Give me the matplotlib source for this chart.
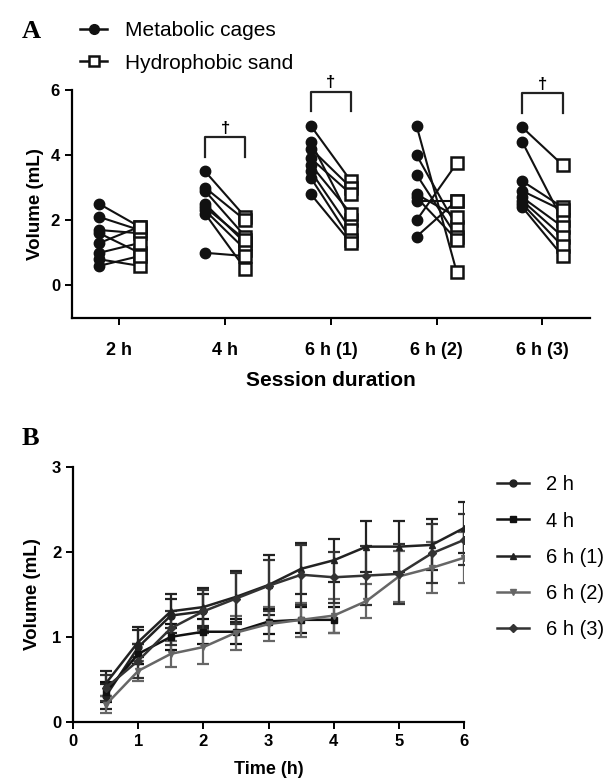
import numpy as np
import matplotlib
matplotlib.use('Agg')
import matplotlib.pyplot as plt

plt.rcParams['font.family'] = ['Liberation Sans', 'DejaVu Sans']

# ---------------- Panel A data ----------------
sessions = ['2 h', '4 h', '6 h (1)', '6 h (2)', '6 h (3)']
cages = [
    [2.5, 2.1, 1.7, 1.6, 1.3, 1.0, 0.8, 0.6],
    [3.5, 3.0, 2.9, 2.5, 2.3, 2.2, 2.4, 1.0],
    [4.9, 4.4, 4.2, 3.9, 3.7, 3.5, 3.3, 2.8],
    [4.9, 4.0, 3.4, 2.8, 2.6, 2.7, 2.0, 1.5],
    [4.85, 4.4, 3.2, 2.9, 2.7, 2.6, 2.5, 2.4],
]
sand = [
    [1.8, 1.7, 1.6, 1.0, 1.8, 1.3, 0.6, 0.9],
    [2.1, 2.0, 1.5, 1.3, 1.1, 0.5, 1.4, 0.9],
    [3.2, 2.0, 3.0, 2.8, 2.2, 1.7, 1.4, 1.3],
    [0.4, 1.8, 1.5, 2.1, 2.6, 1.4, 3.75, 2.6],
    [3.7, 2.0, 2.4, 2.3, 1.8, 1.5, 1.2, 0.9],
]
significant = [False, True, True, False, True]

# ---------------- Panel B data ----------------
groups = ['2 h', '4 h', '6 h (1)', '6 h (2)', '6 h (3)']
times = [0.5, 1, 1.5, 2, 2.5, 3, 3.5, 4, 4.5, 5, 5.5, 6]
means = [
    [0.30, 0.88, 1.25, 1.30],
    [0.35, 0.80, 1.00, 1.06, 1.06, 1.18, 1.20, 1.20],
    [0.45, 0.94, 1.30, 1.35, 1.47, 1.61, 1.80, 1.90, 2.06, 2.06, 2.08, 2.28],
    [0.20, 0.60, 0.80, 0.88, 1.05, 1.15, 1.20, 1.25, 1.42, 1.71, 1.81, 1.93],
    [0.40, 0.72, 1.10, 1.30, 1.45, 1.60, 1.73, 1.70, 1.72, 1.74, 1.98, 2.14],
]
sems = [
    [0.15, 0.20, 0.20, 0.20],
    [0.12, 0.12, 0.15, 0.15, 0.15, 0.15, 0.15, 0.15],
    [0.15, 0.18, 0.20, 0.22, 0.30, 0.35, 0.30, 0.25, 0.30, 0.30, 0.30, 0.30],
    [0.10, 0.12, 0.15, 0.20, 0.20, 0.20, 0.20, 0.20, 0.20, 0.30, 0.30, 0.30],
    [0.15, 0.20, 0.20, 0.25, 0.30, 0.30, 0.35, 0.30, 0.35, 0.35, 0.35, 0.30],
]
markers = ['o', 's', '^', 'v', 'D']
colors = ['#222222', '#111111', '#222222', '#666666', '#333333']

fig = plt.figure(figsize=(6.14, 7.83), dpi=100)

# ---------------- Panel A ----------------
axA = fig.add_axes([0.117, 0.594, 0.844, 0.291])
off = 0.19
for i in range(len(sessions)):
    for c, s in zip(cages[i], sand[i]):
        axA.plot([i - off, i + off], [c, s], color='#111111', lw=1.5, zorder=2)
    axA.plot([i - off] * len(cages[i]), cages[i], 'o', color='#111111',
             ms=7.5, zorder=3)
    axA.plot([i + off] * len(sand[i]), sand[i], 's', mfc='white',
             mec='#111111', mew=1.8, ms=8, zorder=3)
    if significant[i]:
        leg = max(cages[i]) + 0.45
        top = leg + 0.6
        axA.plot([i - off, i - off, i + off, i + off], [leg, top, top, leg],
                 color='#222222', lw=1.6, clip_on=False)
        axA.text(i, top + 0.05, '\u2020', ha='center', va='bottom',
                 fontsize=12, fontweight='bold', clip_on=False)

axA.set_xlim(-0.45, 4.45)
axA.set_ylim(-1, 6)
axA.set_yticks([0, 2, 4, 6])
axA.set_xticks(range(len(sessions)))
axA.set_xticklabels(sessions)
axA.spines['top'].set_visible(False)
axA.spines['right'].set_visible(False)
for sp in ['left', 'bottom']:
    axA.spines[sp].set_linewidth(1.6)
axA.tick_params(width=1.4, length=5)
axA.tick_params(axis='x', labelsize=13, pad=12)
axA.tick_params(axis='y', labelsize=12)
for lab in axA.get_xticklabels() + axA.get_yticklabels():
    lab.set_fontweight('bold')
axA.set_ylabel('Volume (mL)', fontsize=13.5, fontweight='bold', labelpad=5)
axA.set_xlabel('Session duration', fontsize=15, fontweight='bold', labelpad=9)

hA1, = axA.plot([], [], 'o-', color='#111111', lw=1.8, ms=7)
hA2, = axA.plot([], [], 's-', color='#111111', mfc='white', mew=1.8, lw=1.8, ms=7)
fig.legend([hA1, hA2], ['Metabolic cages', 'Hydrophobic sand'],
           loc='upper left', bbox_to_anchor=(0.1, 0.997), frameon=False,
           fontsize=15, handlelength=1.3, labelspacing=0.65, handletextpad=0.85)

fig.text(0.035, 0.96, 'A', family='Liberation Serif', fontweight='bold',
         fontsize=19, va='center')
fig.text(0.035, 0.440, 'B', family='Liberation Serif', fontweight='bold',
         fontsize=19, va='center')

# ---------------- Panel B ----------------
axB = fig.add_axes([0.119, 0.078, 0.637, 0.326])
handles = []
for g, m, s, mk, col in zip(groups, means, sems, markers, colors):
    t = times[:len(m)]
    ms = 5 if mk != 'D' else 4
    h = axB.errorbar(t, m, yerr=s, marker=mk, color=col, ms=ms, lw=1.8,
                     elinewidth=1.6, capsize=4.5, capthick=1.6)
    handles.append(h)

axB.set_xlim(0, 6)
axB.set_ylim(0, 3)
axB.set_xticks(range(0, 7))
axB.set_yticks([0, 1, 2, 3])
axB.spines['top'].set_visible(False)
axB.spines['right'].set_visible(False)
for sp in ['left', 'bottom']:
    axB.spines[sp].set_linewidth(1.6)
axB.tick_params(width=1.4, length=5, labelsize=12)
for lab in axB.get_xticklabels() + axB.get_yticklabels():
    lab.set_fontweight('bold')
axB.set_ylabel('Volume (mL)', fontsize=13.5, fontweight='bold', labelpad=8)
axB.set_xlabel('Time (h)', fontsize=13, fontweight='bold', labelpad=9)

fig.legend([h[0] for h in handles], groups, loc='upper left',
           bbox_to_anchor=(0.78, 0.416), frameon=False, fontsize=14.5,
           handlelength=1.6, labelspacing=0.85, handletextpad=0.85)

fig.savefig('out.png', dpi=100)
